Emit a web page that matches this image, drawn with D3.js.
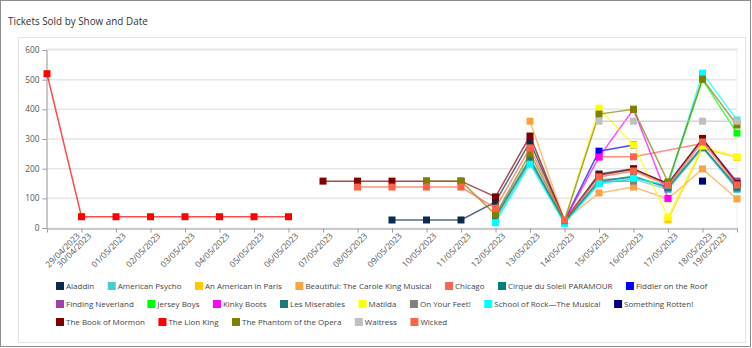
<!DOCTYPE html>
<html><head><meta charset="utf-8">
<script src="https://cdn.jsdelivr.net/npm/d3@7"></script>
<style>
html,body{margin:0;padding:0;background:#fff;}
svg{display:block;font-family:"Open Sans","Noto Sans",sans-serif;}
</style></head>
<body><svg id="c" width="752" height="348"></svg>
<script>
const dates = ["29/04/2023","30/04/2023","01/05/2023","02/05/2023","03/05/2023","04/05/2023","05/05/2023","06/05/2023","07/05/2023","08/05/2023","09/05/2023","10/05/2023","11/05/2023","12/05/2023","13/05/2023","14/05/2023","15/05/2023","16/05/2023","17/05/2023","18/05/2023","19/05/2023"];
const yTicks = [0,100,200,300,400,500,600];
const N = null;
const aladdin          = [N,N,N,N,N,N,N,N,N,N,27,27,27,88,290,25,182,200,148,300,150];
const americanPsycho   = [N,N,N,N,N,N,N,N,N,N,N,N,N,25,220,18,150,165,130,270,130];
const americanParis    = [N,N,N,N,N,N,N,N,N,N,N,N,N,N,N,N,N,N,27,268,238];
const beautiful        = [N,N,N,N,N,N,N,N,N,N,N,N,N,N,360,25,118,138,98,199,98];
const chicago          = [N,N,N,N,N,N,N,N,N,N,N,N,N,N,N,N,240,240,N,285,N];
const cirque           = [N,N,N,N,N,N,N,N,N,N,N,N,N,35,228,20,155,175,135,272,140];
const fiddler          = [N,N,N,N,N,N,N,N,N,N,N,N,N,N,N,25,259,280,N,N,N];
const findingNeverland = [N,N,N,N,N,N,N,N,N,N,N,N,N,N,N,N,N,N,N,295,158];
const jerseyBoys       = [N,N,N,N,N,N,N,N,N,N,N,N,N,N,N,N,N,N,150,500,320];
const kinkyBoots       = [N,N,N,N,N,N,N,N,N,N,N,N,N,N,N,25,239,400,100,N,N];
const lesMis           = [N,N,N,N,N,N,N,N,N,N,N,N,N,40,235,20,162,170,140,276,135];
const matilda          = [N,N,N,N,N,N,N,N,N,N,N,N,N,N,N,25,404,280,37,276,240];
const onYourFeet       = [N,N,N,N,N,N,N,N,N,N,N,N,N,N,N,N,158,158,N,N,N];
const schoolOfRock     = [N,N,N,N,N,N,N,N,N,N,N,N,N,18,215,15,150,168,145,522,364];
const somethingRotten  = [N,N,N,N,N,N,N,N,N,N,N,N,N,N,N,N,N,N,N,158,N];
const bookOfMormon     = [N,N,N,N,N,N,N,N,158,158,158,158,158,105,310,25,178,198,150,302,150];
const lionKing         = [520,38,38,38,38,38,38,38,N,N,N,N,N,N,N,N,N,N,N,N,N];
const phantom          = [N,N,N,N,N,N,N,N,N,N,N,158,158,45,252,25,384,400,155,502,347];
const waitress         = [N,N,N,N,N,N,N,N,N,N,N,N,N,N,N,N,360,360,N,360,360];
const wicked           = [N,N,N,N,N,N,N,N,N,138,138,138,138,67,270,27,172,192,145,290,145];

const showNames = ["Aladdin","American Psycho","An American in Paris","Beautiful: The Carole King Musical","Chicago","Cirque du Soleil PARAMOUR","Fiddler on the Roof","Finding Neverland","Jersey Boys","Kinky Boots","Les Miserables","Matilda","On Your Feet!","School of Rock\u2014The Musical","Something Rotten!","The Book of Mormon","The Lion King","The Phantom of the Opera","Waitress","Wicked"];
const showValues = [aladdin,americanPsycho,americanParis,beautiful,chicago,cirque,fiddler,findingNeverland,jerseyBoys,kinkyBoots,lesMis,matilda,onYourFeet,schoolOfRock,somethingRotten,bookOfMormon,lionKing,phantom,waitress,wicked];
const showColors = ["#0b2a4e","#48cccd","#ffc800","#f7a541","#fa6450","#008080","#0000ff","#a040a8","#00ff00","#ff00ff","#1a7a78","#ffff00","#808080","#00ffff","#000080","#800000","#ff0000","#808000","#c0c0c0","#ff6347"];

(function(){
const svg = d3.select("#c");
svg.append("rect").attr("x",0.5).attr("y",0.5).attr("width",750).attr("height",346).attr("fill","#fff").attr("stroke","#8c8c8c");
svg.append("rect").attr("x",18.5).attr("y",37.5).attr("width",727).attr("height",305).attr("fill","none").attr("stroke","#e3e3e3");
svg.append("text").attr("x",8).attr("y",25).attr("font-size",9.9).attr("fill","#333").text("Tickets Sold by Show and Date");

const pL = 47, pR = 737, pT = 50, pB = 228;
const x = d3.scalePoint().domain(dates).range([pL,pR]);
const y = d3.scaleLinear().domain([0,600]).range([pB,pT]);

svg.append("rect").attr("x",pL).attr("y",48.5).attr("width",pR-pL).attr("height",pB-48.5).attr("fill","none").attr("stroke","#efefef");
svg.append("g").selectAll("line").data(yTicks.filter(d=>d>0)).join("line")
  .attr("x1",pL).attr("x2",pR).attr("y1",d=>y(d)).attr("y2",d=>y(d))
  .attr("stroke","#e6e6e6").attr("stroke-width",1.5);

const ya = svg.append("g").attr("transform",`translate(${pL-0.5},0)`)
  .call(d3.axisLeft(y).tickValues(yTicks).tickSize(4).tickPadding(3));
ya.select(".domain").attr("stroke","#9a9a9a");
ya.selectAll(".tick line").attr("stroke","#9a9a9a");
ya.selectAll("text").attr("font-size",8.3).attr("fill","#555").attr("font-family","Open Sans");

const xa = svg.append("g").attr("transform",`translate(0,${pB+0.5})`)
  .call(d3.axisBottom(x).tickSize(4).tickSizeOuter(0));
xa.select(".domain").attr("stroke","#9a9a9a");
xa.selectAll(".tick line").attr("stroke","#9a9a9a");
xa.selectAll("text").attr("font-size",8.4).attr("fill","#555").attr("font-family","Open Sans")
  .attr("text-anchor","end").attr("dy",null).attr("y",0)
  .attr("transform",(d,i)=>{
    let dx = 10;
    if(i===0) dx = 33;
    if(i===dates.length-1) dx = -10;
    return `translate(${dx},8) rotate(-45)`;
  });

const line = d3.line().x(d=>x(d.date)).y(d=>y(d.value));
const series = showNames.map((name,k)=>({name,color:showColors[k],
  pts: dates.map((date,i)=>({date,value:showValues[k][i]})).filter(p=>p.value!==null)}));
const gS = svg.append("g");
series.forEach(s=>{
  const g = gS.append("g");
  g.append("path").attr("d",line(s.pts)).attr("fill","none").attr("stroke",s.color)
    .attr("stroke-width",1.5).attr("stroke-opacity",0.7);
  g.selectAll("rect").data(s.pts).join("rect")
    .attr("x",d=>x(d.date)-3.5).attr("y",d=>y(d.value)-3.5).attr("width",7).attr("height",7)
    .attr("fill",s.color);
});

const lg = svg.append("g").attr("font-size",8).attr("fill","#444");
let lx = 56, ly = 286;
const maxX = 742, gap = 13.5;
series.forEach(s=>{
  const t = lg.append("text").attr("y",ly+3).text(s.name);
  const w = t.node().getComputedTextLength();
  if(lx + 10 + w > maxX){ lx = 56; ly += 18; t.attr("y",ly+3); }
  t.attr("x",lx+10);
  lg.append("rect").attr("x",lx).attr("y",ly-4).attr("width",8).attr("height",8).attr("fill",s.color);
  lx += 10 + w + gap;
});
})();
</script></body></html>
